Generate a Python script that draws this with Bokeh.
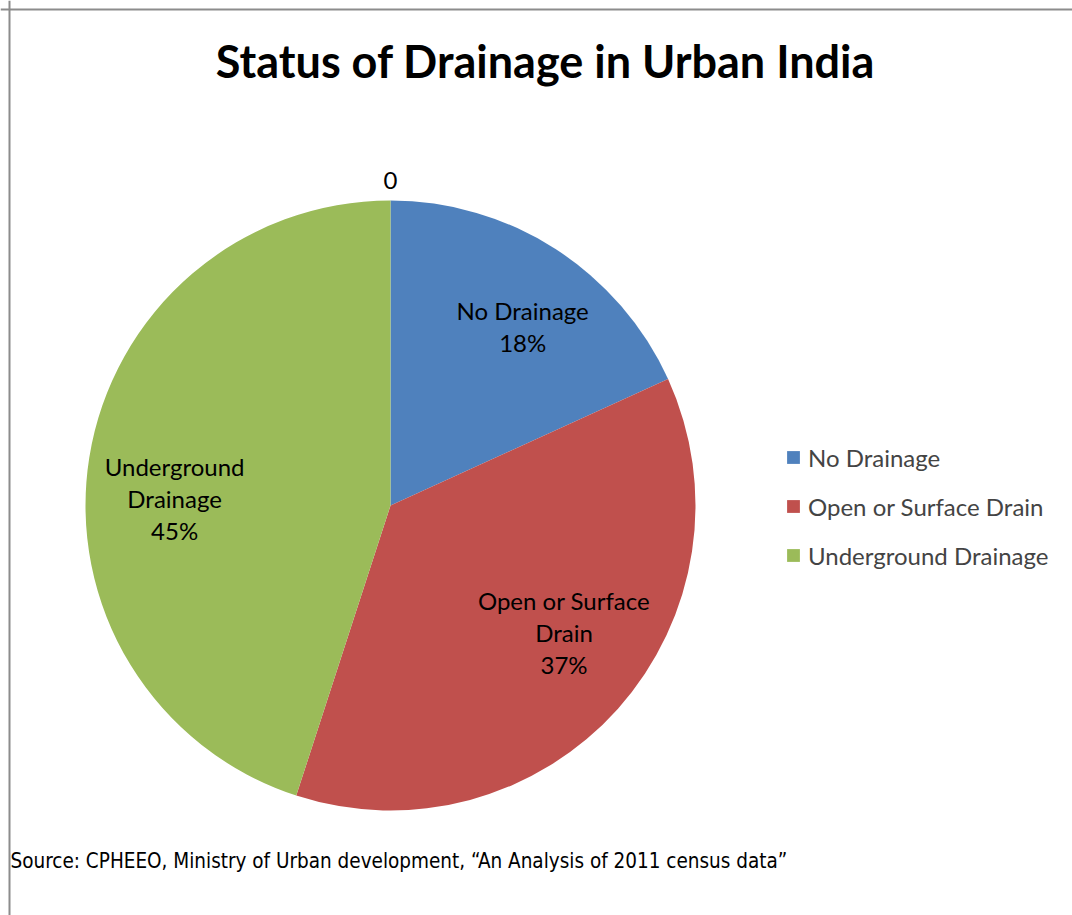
import math
from bokeh.plotting import figure
from bokeh.models import Range1d, ColumnDataSource, Legend, LegendItem, Span
from bokeh.core.properties import value
from bokeh.embed import file_html
from bokeh.resources import INLINE

# ---- data ----
categories = ["No Drainage", "Open or Surface Drain", "Underground Drainage"]
shares = [18.2, 36.8, 45.0]
pct_labels = ["18%", "37%", "45%"]
label_lines = [["No Drainage"], ["Open or Surface", "Drain"], ["Underground", "Drainage"]]
colors = ["#4F81BD", "#C0504D", "#9BBB59"]
zero_label = "0"
title_text = "Status of Drainage in Urban India"
source_note = "Source: CPHEEO, Ministry of Urban development, \u201cAn Analysis of 2011 census data\u201d"

# ---- layout ----
W, H = 1072, 915
CX, CY, R = 390, 410, 305
LABEL_R = 0.71
LINE_STEP = 32
nudges = [(15, -3), (12, 17), (-2, -27)]  # screen px (x right, y up)

p = figure(width=W, height=H, x_range=Range1d(0, W), y_range=Range1d(0, H),
           output_backend="svg", toolbar_location=None, min_border=0,
           x_axis_type=None, y_axis_type=None)
p.grid.visible = False
p.outline_line_color = None
p.background_fill_color = "white"
p.border_fill_color = "white"

total = sum(shares)
starts, ends, mids = [], [], []
cum = 0.0
for s in shares:
    f0 = cum / total
    cum += s
    f1 = cum / total
    starts.append(math.pi / 2 - 2 * math.pi * f0)
    ends.append(math.pi / 2 - 2 * math.pi * f1)
    mids.append((f0 + f1) / 2)

src = ColumnDataSource(dict(x=[CX] * len(shares), y=[CY] * len(shares),
                            start=starts, end=ends, color=colors, cat=categories))
wr = p.wedge(x="x", y="y", radius=R, start_angle="start", end_angle="end",
             direction="clock", fill_color="color", line_color=None, source=src)

# data labels
lx, ly, lt = [], [], []
for i, m in enumerate(mids):
    th = math.pi / 2 - 2 * math.pi * m
    px = CX + LABEL_R * R * math.cos(th) + nudges[i][0]
    py = CY + LABEL_R * R * math.sin(th) + nudges[i][1]
    lines = label_lines[i] + [pct_labels[i]]
    n = len(lines)
    for k, t in enumerate(lines):
        lx.append(px)
        ly.append(py + (n - 1) / 2 * LINE_STEP - k * LINE_STEP)
        lt.append(t)
p.text(x=lx, y=ly, text=lt, text_align="center", text_baseline="middle",
       text_font=value("Lato"), text_font_size=value("24px"), text_color="#000000")

# stray zero label above pie
p.text(x=[CX], y=[CY + R + 20], text=[zero_label], text_align="center", text_baseline="middle",
       text_font=value("Lato"), text_font_size=value("24px"), text_color="#000000")

# title
p.text(x=[545], y=[H - 60], text=[title_text], text_align="center", text_baseline="middle",
       text_font=value("Lato"), text_font_style="bold", text_font_size=value("45px"),
       text_color="#000000")

# source note
p.text(x=[10], y=[H - 860], text=[source_note], text_align="left", text_baseline="middle",
       text_font=value("DejaVu Sans Condensed, Liberation Sans"), text_font_size=value("20.5px"),
       text_color="#000000")

# legend
items = [LegendItem(label=c, renderers=[wr], index=i) for i, c in enumerate(categories)]
legend = Legend(items=items, location=(785, 345), glyph_width=16, glyph_height=16,
                label_standoff=7, spacing=19, label_height=30,
                label_text_font="Lato", label_text_font_size="24px",
                padding=0, margin=0, border_line_color=None, background_fill_alpha=0)
p.add_layout(legend)

# chart border (top and left edges visible)
p.add_layout(Span(location=H - 9, dimension="width", line_color="#8c8c8c", line_width=2))
p.add_layout(Span(location=9, dimension="height", line_color="#8c8c8c", line_width=2))

open("out.html", "w").write(file_html(p, INLINE))
